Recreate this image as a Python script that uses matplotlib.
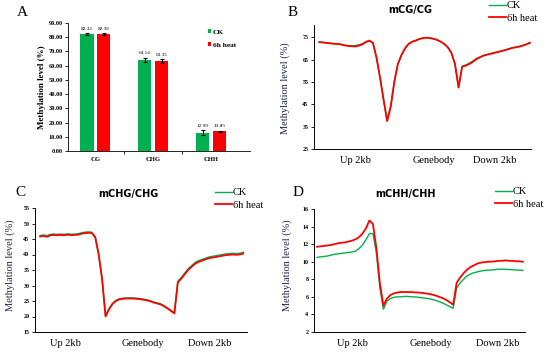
import numpy as np
import matplotlib.pyplot as plt

plt.rcParams['font.family'] = ['Liberation Serif', 'DejaVu Serif']

# A: bar chart of overall methylation level
contexts = ['CG', 'CHG', 'CHH']
bar_ck = [82.32, 64.14, 12.99]
bar_heat = [82.36, 63.35, 13.85]
err_ck = [0.6, 1.6, 1.5]
err_heat = [0.5, 1.2, 0.5]

# B-D: profiles over up 2kb / genebody / down 2kb (20 bins each)
cg_heat = [72.8, 72.7, 72.5, 72.3, 72.1, 72.0, 71.8, 71.4, 71.1, 71.0,
           70.9, 71.2, 71.8, 72.8, 73.5, 72.5, 66.0, 57.0, 47.0, 37.5,
           44.0, 55.0, 63.0, 67.0, 70.0, 72.0, 73.0, 73.5, 74.2, 74.6,
           74.8, 74.6, 74.3, 73.8, 73.0, 72.0, 70.5, 68.0, 63.0, 52.5,
           61.8, 62.3, 63.0, 64.0, 65.2, 66.0, 66.8, 67.2, 67.6, 68.0,
           68.4, 68.8, 69.2, 69.7, 70.2, 70.5, 70.8, 71.3, 71.8, 72.5]
cg_ck = [72.9, 72.7, 72.6, 72.3, 72.2, 72.0, 71.9, 71.5, 71.3, 71.2,
         71.3, 71.6, 72.1, 73.0, 73.6, 72.6, 66.1, 57.1, 47.1, 37.6,
         44.1, 55.1, 63.1, 67.1, 70.1, 72.1, 73.1, 73.6, 74.3, 74.7,
         74.9, 74.7, 74.4, 73.9, 73.1, 72.1, 70.6, 68.1, 63.1, 52.7,
         62.0, 62.6, 63.4, 64.4, 65.5, 66.2, 66.9, 67.3, 67.7, 68.1,
         68.5, 68.9, 69.3, 69.8, 70.3, 70.6, 70.9, 71.4, 71.9, 72.6]
chg_heat = [45.8, 46.0, 45.7, 46.2, 46.3, 46.2, 46.3, 46.2, 46.4, 46.2,
            46.3, 46.4, 46.7, 46.9, 47.0, 46.9, 45.5, 40.0, 32.0, 20.0,
            22.3, 24.0, 25.0, 25.5, 25.7, 25.8, 25.8, 25.8, 25.7, 25.6,
            25.4, 25.2, 24.9, 24.5, 24.2, 23.9, 23.3, 22.6, 21.8, 21.0,
            31.0, 32.2, 33.6, 35.0, 36.0, 37.0, 37.6, 38.0, 38.4, 38.8,
            39.0, 39.2, 39.4, 39.6, 39.8, 39.9, 40.0, 39.9, 40.0, 40.3]
chg_ck = [46.1, 46.3, 46.1, 46.5, 46.6, 46.5, 46.6, 46.5, 46.7, 46.5,
          46.6, 46.7, 47.0, 47.2, 47.3, 47.2, 45.8, 40.3, 32.3, 20.2,
          22.5, 24.2, 25.2, 25.7, 25.9, 26.0, 26.0, 26.0, 25.9, 25.8,
          25.6, 25.4, 25.1, 24.7, 24.4, 24.1, 23.5, 22.8, 22.0, 21.2,
          31.4, 32.6, 34.0, 35.4, 36.4, 37.4, 38.0, 38.4, 38.8, 39.2,
          39.4, 39.6, 39.8, 40.0, 40.2, 40.3, 40.4, 40.3, 40.4, 40.7]
chh_heat = [11.7, 11.75, 11.8, 11.85, 11.9, 12.0, 12.1, 12.15, 12.2, 12.3,
            12.4, 12.55, 12.8, 13.2, 13.8, 14.7, 14.3, 11.5, 7.5, 5.0,
            5.8, 6.2, 6.4, 6.5, 6.55, 6.55, 6.55, 6.55, 6.5, 6.5,
            6.45, 6.4, 6.35, 6.25, 6.15, 6.0, 5.85, 5.65, 5.4, 5.1,
            7.6, 8.2, 8.7, 9.1, 9.4, 9.6, 9.8, 9.9, 9.95, 10.0,
            10.0, 10.05, 10.1, 10.1, 10.15, 10.1, 10.1, 10.05, 10.05, 10.0]
chh_ck = [10.5, 10.55, 10.6, 10.65, 10.75, 10.85, 10.9, 10.95, 11.0, 11.05,
          11.1, 11.2, 11.5, 11.9, 12.5, 13.2, 13.2, 11.0, 7.0, 4.6,
          5.5, 5.8, 5.95, 6.0, 6.0, 6.05, 6.05, 6.0, 6.0, 5.95,
          5.9, 5.85, 5.8, 5.7, 5.6, 5.45, 5.3, 5.1, 4.9, 4.7,
          7.0, 7.6, 8.0, 8.4, 8.6, 8.75, 8.85, 8.95, 9.0, 9.05,
          9.05, 9.1, 9.15, 9.15, 9.15, 9.1, 9.1, 9.05, 9.05, 9.0]
region_labels = ['Up 2kb', 'Genebody', 'Down 2kb']

green = '#00b050'
red = '#ff0000'
navy = '#1f2350'

fig = plt.figure(figsize=(5.5, 3.58), dpi=100)
W, H = 550, 358

def px_axes(l, t, r, b):
    return fig.add_axes([l / W, 1 - b / H, (r - l) / W, (b - t) / H])

# ---- A ----
axA = px_axes(68, 23, 250, 151)
x = np.arange(len(contexts))
bw = 0.23
axA.bar(x - 0.145, bar_ck, bw, color=green, label='CK',
        yerr=err_ck, error_kw=dict(ecolor='black', elinewidth=0.8, capsize=1.2, capthick=0.8))
axA.bar(x + 0.145, bar_heat, bw, color=red, label='6h heat',
        yerr=err_heat, error_kw=dict(ecolor='black', elinewidth=0.8, capsize=1.2, capthick=0.8))
for i in range(len(contexts)):
    axA.text(x[i] - 0.145, bar_ck[i] + err_ck[i] + 1.5, f'{bar_ck[i]:.2f}',
             ha='center', va='bottom', fontsize=3.8)
    axA.text(x[i] + 0.145, bar_heat[i] + err_heat[i] + 1.5, f'{bar_heat[i]:.2f}',
             ha='center', va='bottom', fontsize=3.8)
axA.set_xlim(-0.47, 2.67)
axA.set_ylim(0, 90)
axA.set_yticks(np.arange(0, 91, 10))
axA.set_yticklabels([f'{v:.2f}' for v in np.arange(0, 91, 10)], fontsize=4.6, fontweight='bold')
axA.set_xticks(x)
axA.set_xticklabels(contexts, fontsize=4.8, fontweight='bold')
axA.tick_params(axis='x', length=0, pad=4)
axA.tick_params(axis='y', length=2, width=0.6, pad=1.5)
axA.set_xticks([0.5, 1.5], minor=True)
axA.tick_params(axis='x', which='minor', length=2, width=0.6)
for s in ['top', 'right']:
    axA.spines[s].set_visible(False)
for s in ['left', 'bottom']:
    axA.spines[s].set_linewidth(0.6)
axA.set_ylabel('Methylation level (%)', fontsize=6.5, fontweight='bold', labelpad=2)
axA.legend(loc='upper left', bbox_to_anchor=(208 / W, 1 - 29 / H), bbox_transform=fig.transFigure,
           frameon=False, prop=dict(size=5.3, weight='bold'), handlelength=0.45, handleheight=0.45,
           handletextpad=0.2, labelspacing=1.0, borderpad=0, borderaxespad=0)
fig.text(22 / W, 1 - 13 / H, 'A', fontsize=11, ha='center', va='center')

# ---- B, C, D ----
panels = [
    ('B', 'mCG/CG', cg_ck, cg_heat, (314, 25, 531, 149), (25, 80.5), np.arange(25, 76, 10),
     (-1.5, 59.3), [10, 32, 49], (293, 13), (410, 10), (285, 88), (489, 1)),
    ('C', 'mCHG/CHG', chg_ck, chg_heat, (35, 208, 247, 332), (15, 55), np.arange(15, 56, 5),
     (-1.5, 60.1), [7.2, 29.9, 49.4], (20, 192), (128, 194), (10, 265), (215, 188)),
    ('D', 'mCHH/CHH', chh_ck, chh_heat, (314, 209, 525, 332), (2, 16), np.arange(2, 17, 2),
     (-0.9, 59.6), [10, 32.7, 51.9], (298, 192), (405, 194), (287, 265), (495, 187)),
]
for (letter, title, ck, heat, box, ylim, yt, xlim, xt, lpos, tpos, ylpos, legpos) in panels:
    ax = px_axes(*box)
    xs = np.arange(len(heat))
    ax.plot(xs, ck, color=green, lw=1.0, label='CK')
    ax.plot(xs, heat, color=red, lw=1.3, label='6h heat')
    ax.set_xlim(*xlim)
    ax.set_ylim(*ylim)
    ax.set_yticks(yt)
    ax.set_yticklabels([str(v) for v in yt], fontsize=4.3, fontweight='bold')
    ax.set_xticks(xt)
    ax.set_xticklabels(region_labels, fontsize=7.5)
    ax.tick_params(axis='x', length=0, pad=5)
    ax.tick_params(axis='y', length=2, width=0.6, pad=2)
    for s in ['top', 'right']:
        ax.spines[s].set_visible(False)
    for s in ['left', 'bottom']:
        ax.spines[s].set_linewidth(0.7)
    fig.text(ylpos[0] / W, 1 - ylpos[1] / H, 'Methylation level (%)', fontsize=7.5,
             color=navy, rotation=90, ha='center', va='center')
    fig.text(lpos[0] / W, 1 - lpos[1] / H, letter, fontsize=11, ha='center', va='center')
    fig.text(tpos[0] / W, 1 - tpos[1] / H, title, fontsize=7, fontweight='bold',
             family=['DejaVu Sans'], ha='center', va='center')
    ax.legend(loc='upper left', bbox_to_anchor=(legpos[0] / W, 1 - legpos[1] / H),
              bbox_transform=fig.transFigure, frameon=False, fontsize=7.5,
              handlelength=1.6, handletextpad=0.1, labelspacing=0.3,
              borderpad=0, borderaxespad=0)

fig.savefig('out.png', dpi=100)
